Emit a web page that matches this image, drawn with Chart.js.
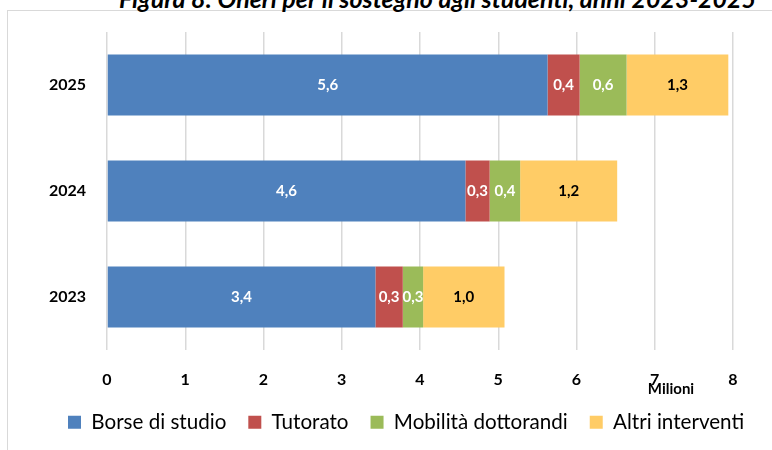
<!DOCTYPE html>
<html>
<head>
<meta charset="utf-8">
<script src="https://cdn.jsdelivr.net/npm/chart.js@4.4.1/dist/chart.umd.min.js"></script>
<style>
  html, body { margin: 0; padding: 0; background: #fff; overflow: hidden; }
  #wrap { position: relative; width: 772px; height: 450px; }
  #frame { position: absolute; left: 7px; top: 10px; width: 800px; height: 500px; border: 1.5px solid #d9d9d9; box-sizing: border-box; }
  #title { position: absolute; left: 0; width: 875px; top: -17px; text-align: center; font: italic bold 25px Lato, sans-serif; color: #000; white-space: nowrap; }
  canvas { position: absolute; left: 0; top: 0; }
</style>
</head>
<body>
<div id="wrap">
  <div id="frame"></div>
  <div id="title">Figura 8: Oneri per il sostegno agli studenti, anni 2023-2025</div>
  <canvas id="chart" width="772" height="450"></canvas>
</div>
<script>
// Data (milioni di euro)
const years = ['2025', '2024', '2023'];
const borse = [5.63, 4.58, 3.43];
const tutorato = [0.41, 0.31, 0.35];
const mobilita = [0.60, 0.39, 0.26];
const altri = [1.30, 1.24, 1.04];
const xTicks = [0, 1, 2, 3, 4, 5, 6, 7, 8];

const fontName = 'Lato, "Open Sans", sans-serif';

// Writes the value on every bar segment
const barLabels = {
  id: 'barLabels',
  afterDatasetsDraw(chart) {
    const ctx = chart.ctx;
    ctx.save();
    ctx.font = 'bold 15px ' + fontName;
    ctx.textAlign = 'center';
    ctx.textBaseline = 'middle';
    chart.data.datasets.forEach((ds, i) => {
      chart.getDatasetMeta(i).data.forEach((bar, j) => {
        const txt = ds.data[j].toFixed(1).replace('.', ',');
        const cx = (bar.x + bar.base) / 2;
        ctx.fillStyle = ds.labelColor;
        ctx.fillText(txt, cx, bar.y);
      });
    });
    // unit note under the axis
    ctx.font = 'bold 15px ' + fontName;
    ctx.fillStyle = '#000';
    ctx.fillText('Milioni', 671, 389);
    ctx.restore();
  }
};

// legend: fixed height, one row, first box starting at x=68
const legendPlace = {
  id: 'legendPlace',
  beforeLayout(chart) {
    const lg = chart.legend;
    if (lg && !lg._patched) {
      const fit = lg.fit;
      lg.fit = function () { this.maxWidth = 900; fit.call(this); this.height = 60; };
      lg._patched = true;
    }
  },
  afterLayout(chart) {
    const lg = chart.legend;
    const pad = lg.options.labels.padding;
    lg.left = 0;
    lg.right = 2 * 68 - pad + lg.lineWidths[0];
    lg.width = lg.right;
  }
};

new Chart(document.getElementById('chart'), {
  type: 'bar',
  data: {
    labels: years,
    datasets: [
      { label: 'Borse di studio', data: borse, backgroundColor: '#4f81bd', labelColor: '#fff' },
      { label: 'Tutorato', data: tutorato, backgroundColor: '#c0504d', labelColor: '#fff' },
      { label: 'Mobilità dottorandi', data: mobilita, backgroundColor: '#9bbb59', labelColor: '#fff' },
      { label: 'Altri interventi', data: altri, backgroundColor: '#ffcc66', labelColor: '#000' }
    ]
  },
  options: {
    indexAxis: 'y',
    responsive: false,
    animation: false,
    layout: { padding: { top: 32, left: 0, right: 39, bottom: 0 } },
    datasets: { bar: { barPercentage: 0.575, categoryPercentage: 1 } },
    scales: {
      x: {
        stacked: true,
        min: 0,
        max: 8,
        afterBuildTicks: (scale) => { scale.ticks = xTicks.map(v => ({ value: v })); },
        afterFit: (scale) => { scale.height = 40; },
        grid: { color: '#d9d9d9', lineWidth: 1.5, drawTicks: false },
        border: { display: false },
        ticks: { padding: 20, color: '#000', font: { family: fontName, size: 16, weight: 'bold' } }
      },
      y: {
        stacked: true,
        grid: { display: false },
        border: { display: false },
        afterFit: (scale) => { scale.width = 107; },
        ticks: { padding: 13, color: '#000', font: { family: fontName, size: 16, weight: 'bold' } }
      }
    },
    plugins: {
      legend: {
        position: 'bottom',
        labels: {
          boxWidth: 13,
          boxHeight: 13,
          padding: 22,
          color: '#000',
          font: { family: fontName, size: 20.6 }
        }
      },
      tooltip: { enabled: false }
    }
  },
  plugins: [barLabels, legendPlace]
});
</script>
</body>
</html>
